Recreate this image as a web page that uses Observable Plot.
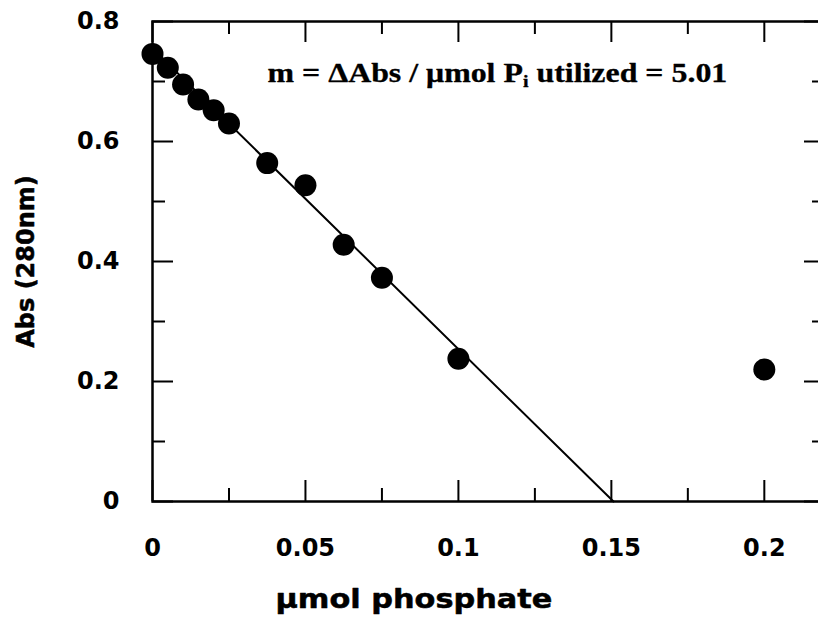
<!DOCTYPE html>
<html><head><meta charset="utf-8">
<script src="https://cdn.jsdelivr.net/npm/d3@7"></script>
<script src="https://cdn.jsdelivr.net/npm/@observablehq/plot@0.6"></script>
<style>html,body{margin:0;padding:0;background:#fff;overflow:hidden;}</style>
</head><body><div id="chart"></div>
<script>
const phosphate = [0, 0.005, 0.01, 0.015, 0.02, 0.025, 0.0375, 0.05, 0.0625, 0.075, 0.1, 0.2];
const absorbance = [0.746, 0.723, 0.695, 0.670, 0.652, 0.630, 0.564, 0.527, 0.428, 0.373, 0.238, 0.220];
const fitSlope = -5.01;
const fitIntercept = 0.755;
const xMajorTicks = [0, 0.05, 0.1, 0.15, 0.2];
const xMinorTicks = [0.025, 0.075, 0.125, 0.175];
const xTickLabels = ["0", "0.05", "0.1", "0.15", "0.2"];
const yMajorTicks = [0, 0.2, 0.4, 0.6, 0.8];
const yMinorTicks = [0.1, 0.3, 0.5, 0.7];
const yTickLabels = ["0", "0.2", "0.4", "0.6", "0.8"];
const xLabel = "µmol phosphate";
const yLabel = "Abs (280nm)";
const annotationParts = ["m = ΔAbs / μmol P", "i", " utilized = 5.01"];

const points = phosphate.map((x, i) => ({x, y: absorbance[i]}));
const fitLine = [0, -fitIntercept / fitSlope].map(x => ({x, y: fitIntercept + fitSlope * x}));

const W = 818, H = 619, mL = 152, mT = 21, mB = 118, mR = -7;
const plotH = H - mT - mB, plotW = W - mL - mR;
const sans = "DejaVu Sans";
const majorLen = 21, minorLen = 13;
const heavy = {stroke: "#000", strokeWidth: 0.5};

const chart = Plot.plot({
  width: W, height: H,
  marginLeft: mL, marginTop: mT, marginBottom: mB, marginRight: mR,
  style: {background: "#fff", overflow: "hidden", fontFamily: sans},
  x: {domain: [0, 0.22], axis: null},
  y: {domain: [0, 0.8], axis: null},
  marks: [
    Plot.axisX(xMajorTicks, {anchor: "bottom", tickSize: 0, tickPadding: 37, label: null,
      tickFormat: d => xTickLabels[xMajorTicks.indexOf(d)], fontSize: 24, fontWeight: "bold", fontFamily: sans, fill: "#000", ...heavy}),
    Plot.axisY(yMajorTicks, {anchor: "left", tickSize: 0, tickPadding: 33, label: null,
      tickFormat: d => yTickLabels[yMajorTicks.indexOf(d)], fontSize: 24, fontWeight: "bold", fontFamily: sans, fill: "#000", ...heavy}),
    // inward ticks, bottom & top
    Plot.ruleX(xMajorTicks, {x: d => d, insetTop: plotH - majorLen, stroke: "#000", strokeWidth: 2}),
    Plot.ruleX(xMinorTicks, {x: d => d, insetTop: plotH - minorLen, stroke: "#000", strokeWidth: 2}),
    Plot.ruleX(xMajorTicks, {x: d => d, insetBottom: plotH - majorLen, stroke: "#000", strokeWidth: 2}),
    Plot.ruleX(xMinorTicks, {x: d => d, insetBottom: plotH - minorLen, stroke: "#000", strokeWidth: 2}),
    // inward ticks, left & right
    Plot.ruleY(yMajorTicks, {y: d => d, insetRight: plotW - majorLen, stroke: "#000", strokeWidth: 2}),
    Plot.ruleY(yMinorTicks, {y: d => d, insetRight: plotW - minorLen, stroke: "#000", strokeWidth: 2}),
    Plot.ruleY(yMajorTicks, {y: d => d, insetLeft: plotW - majorLen, stroke: "#000", strokeWidth: 2}),
    Plot.ruleY(yMinorTicks, {y: d => d, insetLeft: plotW - minorLen, stroke: "#000", strokeWidth: 2}),
    Plot.frame({stroke: "#000", strokeWidth: 2.5}),
    Plot.line(fitLine, {x: "x", y: "y", stroke: "#000", strokeWidth: 2}),
    Plot.dot(points, {x: "x", y: "y", r: 11, fill: "#000", stroke: "none"}),
    Plot.text([xLabel], {frameAnchor: "bottom-left", dx: 123, dy: 106, textAnchor: "start", lineAnchor: "bottom",
      fontSize: 26, fontWeight: "bold", fontFamily: sans, fill: "#000", ...heavy}),
    Plot.text([yLabel], {frameAnchor: "left", dx: -126, rotate: -90, textAnchor: "middle", lineAnchor: "middle",
      fontSize: 24, fontWeight: "bold", fontFamily: sans, fill: "#000", ...heavy}),
    Plot.text([annotationParts.join("")], {frameAnchor: "top-left", dx: 115, dy: 60, textAnchor: "start", lineAnchor: "bottom",
      fontSize: 27, fontWeight: "bold", fontFamily: "Liberation Serif", fill: "#000", stroke: "#000", strokeWidth: 0.3})
  ]
});
document.getElementById("chart").appendChild(chart);

const findText = s => d3.select(chart).selectAll("text").filter(function() { return this.textContent === s; });

// horizontally stretch a text element (anchored at its left edge) to a target width
function stretchTo(textEl, targetWidth) {
  const ns = "http://www.w3.org/2000/svg";
  const g = document.createElementNS(ns, "g");
  textEl.parentNode.insertBefore(g, textEl);
  g.appendChild(textEl);
  const r = textEl.getBoundingClientRect();
  const ctm = g.getScreenCTM();
  const x0 = (r.left - ctm.e) / ctm.a;
  const s = targetWidth / r.width;
  g.setAttribute("transform", `translate(${x0},0) scale(${s},1) translate(${-x0},0)`);
}

const ann = findText(annotationParts.join(""));
if (!ann.empty()) {
  ann.text(null);
  ann.append("tspan").text(annotationParts[0]);
  ann.append("tspan").attr("font-size", 17).attr("dy", 5).text(annotationParts[1]);
  ann.append("tspan").attr("dy", -5).text(annotationParts[2]);
  stretchTo(ann.node(), 460);
}

const xl = findText(xLabel);
if (!xl.empty()) stretchTo(xl.node(), 277);
</script>
</body></html>
